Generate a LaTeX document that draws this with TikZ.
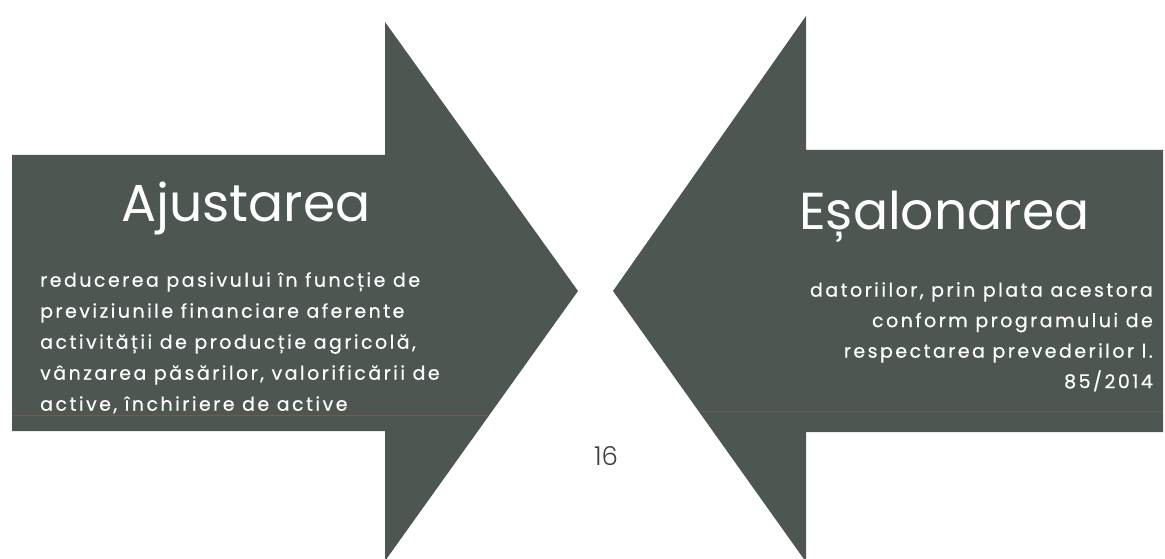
\documentclass[tikz,border=0pt]{standalone}
\usepackage{fontspec}
\setmainfont{Poppins}
\newfontfamily\widepop[LetterSpace=13,FakeBold=0.5]{Poppins}
\newfontfamily\poplight{Poppins Light}
\definecolor{slate}{RGB}{78,86,82}
\definecolor{scanline}{RGB}{112,92,80}

\begin{document}
\begin{tikzpicture}[x=1pt,y=-1pt,
  arrowfill/.style={fill=slate},
  title/.style={text=white,inner sep=0pt,font=\fontsize{52}{60}\selectfont},
  body/.style={text=white,inner sep=0pt,font=\widepop\fontsize{19}{31}\selectfont}]
\useasboundingbox (0,0) rectangle (1165,559);

% arrows
\fill[arrowfill] (12,155) -- (385,155) -- (385,22) -- (578,291) -- (385,561) -- (385,431) -- (12,431) -- cycle;
\fill[arrowfill] (1163,150) -- (806,150) -- (806,16) -- (613,291) -- (806,562) -- (806,432) -- (1163,432) -- cycle;
\draw[scanline,line width=1pt] (12,415) -- (487,415);
\draw[scanline,line width=1pt] (701,411) -- (1163,411);

% left arrow text
\node[title,anchor=base] (ajtitle) at (246,221) {Ajustarea};
\node[body,anchor=north west,align=left] (ajtext) at (40,272)
  {reducerea pasivului în funcție de\\
   previziunile financiare aferente\\
   activității de producție agricolă,\\
   vânzarea păsărilor, valorificării de\\
   active, închiriere de active};

% right arrow text
\node[title,anchor=base west] (estitle) at (799,229) {Eșalonarea};
\node[body,anchor=north east,align=right,font=\widepop\fontsize{19}{30.5}\selectfont] (estext) at (1153,282)
  {datoriilor, prin plata acestora\\
   conform programului de\\
   respectarea prevederilor l.\\
   85/2014};

\node[text=black!75,font=\poplight\fontsize{26}{30}\selectfont] (pagenum) at (606,456) {16};
\end{tikzpicture}
\end{document}
